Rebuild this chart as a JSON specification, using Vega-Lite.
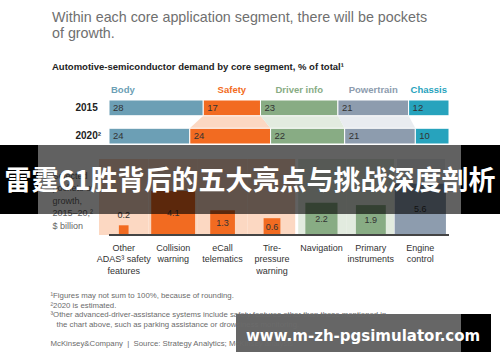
{
  "$schema": "https://vega.github.io/schema/vega-lite/v6.json",
  "background": "white",
  "padding": {"left": 0, "top": 10, "right": 0, "bottom": 0},
  "spacing": 15,
  "bounds": "flush",
  "config": {
    "view": {"stroke": null},
    "font": "Liberation Sans",
    "axis": {"grid": false}
  },
  "title": {
    "text": ["Within each core application segment, there will be pockets", "of growth."],
    "subtitle": "Automotive-semiconductor demand by core segment, % of total¹",
    "anchor": "start",
    "frame": "bounds",
    "dx": 52,
    "offset": 14,
    "font": "Liberation Sans",
    "fontSize": 14.3,
    "fontWeight": "normal",
    "color": "#6f6f6f",
    "lineHeight": 16,
    "subtitleFont": "Liberation Sans",
    "subtitleFontSize": 9.5,
    "subtitleFontWeight": "bold",
    "subtitleColor": "#222222",
    "subtitlePadding": 21
  },
  "datasets": {
    "shares": [
      {"year": "2015", "segment": "Body", "order": 1, "share": 28},
      {"year": "2015", "segment": "Safety", "order": 2, "share": 17},
      {"year": "2015", "segment": "Driver info", "order": 3, "share": 23},
      {"year": "2015", "segment": "Powertrain", "order": 4, "share": 21},
      {"year": "2015", "segment": "Chassis", "order": 5, "share": 12},
      {"year": "2020", "segment": "Body", "order": 1, "share": 24},
      {"year": "2020", "segment": "Safety", "order": 2, "share": 24},
      {"year": "2020", "segment": "Driver info", "order": 3, "share": 22},
      {"year": "2020", "segment": "Powertrain", "order": 4, "share": 21},
      {"year": "2020", "segment": "Chassis", "order": 5, "share": 10}
    ],
    "growth": [
      {"feature": "Other\nADAS³ safety\nfeatures", "segment": "Safety", "value": 0.2},
      {"feature": "Collision\nwarning", "segment": "Safety", "value": 4.1},
      {"feature": "eCall\ntelematics", "segment": "Safety", "value": 1.3},
      {"feature": "Tire-\npressure\nwarning", "segment": "Safety", "value": 0.6},
      {"feature": "Navigation", "segment": "Driver info", "value": 2.2},
      {"feature": "Primary\ninstruments", "segment": "Driver info", "value": 1.9},
      {"feature": "Engine\ncontrol", "segment": "Powertrain", "value": 5.6}
    ]
  },
  "vconcat": [
    {
      "width": 340,
      "height": 44,
      "data": {"name": "shares"},
      "layer": [
        {
          "transform": [
            {"stack": "share", "groupby": ["year"], "sort": [{"field": "order", "order": "ascending"}], "as": ["s0", "s1"]},
            {"filter": {"field": "segment", "oneOf": ["Safety", "Driver info", "Powertrain"]}}
          ],
          "mark": {"type": "area", "orient": "horizontal"},
          "encoding": {
            "y": {"field": "year", "type": "ordinal", "scale": {"type": "point", "range": [15.75, 28.25], "padding": 0}, "axis": null},
            "x": {"field": "s0", "type": "quantitative", "stack": null, "scale": {"domain": [0, 101], "nice": false}, "axis": null},
            "x2": {"field": "s1"},
            "detail": {"field": "segment"},
            "fill": {"field": "segment", "type": "nominal", "scale": {"domain": ["Safety", "Driver info", "Powertrain"], "range": ["#fcd8c2", "#e2ebdf", "#e9ecf0"]}, "legend": null}
          }
        },
        {
          "layer": [
            {
              "transform": [
                {"stack": "share", "groupby": ["year"], "sort": [{"field": "order", "order": "ascending"}], "as": ["s0", "s1"]}
              ],
              "mark": {"type": "bar", "stroke": "white", "strokeWidth": 1},
              "encoding": {
                "y": {"field": "year", "type": "nominal", "scale": {"paddingInner": 0.4425, "paddingOuter": 0},
                  "axis": {"title": null, "domain": false, "ticks": false, "labelFontSize": 10, "labelFontWeight": "bold", "labelColor": "#222222", "labelAlign": "left", "labelBaseline": "middle", "labelPadding": 34, "labelExpr": "datum.label == '2020' ? '2020²' : datum.label"}},
                "x": {"field": "s0", "type": "quantitative", "scale": {"domain": [0, 101], "nice": false}, "axis": null},
                "x2": {"field": "s1"},
                "color": {"field": "segment", "type": "nominal", "scale": {"domain": ["Body", "Safety", "Driver info", "Powertrain", "Chassis"], "range": ["#6c9fb5", "#f26b21", "#88ac84", "#8d9cae", "#27a3bd"]}, "legend": null}
              }
            },
            {
              "transform": [
                {"stack": "share", "groupby": ["year"], "sort": [{"field": "order", "order": "ascending"}], "as": ["s0", "s1"]}
              ],
              "mark": {"type": "text", "align": "left", "baseline": "middle", "dx": 4, "fontSize": 9.5, "color": "#333333"},
              "encoding": {
                "y": {"field": "year", "type": "nominal"},
                "x": {"field": "s0", "type": "quantitative"},
                "text": {"field": "share", "type": "quantitative"}
              }
            },
            {
              "transform": [
                {"stack": "share", "groupby": ["year"], "sort": [{"field": "order", "order": "ascending"}], "as": ["s0", "s1"]},
                {"filter": "datum.year == '2015' && datum.segment == 'Body'"}
              ],
              "mark": {"type": "text", "align": "left", "baseline": "middle", "dx": 2, "dy": -17.5, "fontSize": 9.5, "fontWeight": "bold"},
              "encoding": {
                "y": {"field": "year", "type": "nominal"},
                "x": {"field": "s0", "type": "quantitative"},
                "color": {"field": "segment", "type": "nominal", "legend": null},
                "text": {"field": "segment"}
              }
            },
            {
              "transform": [{"filter": "datum.year == '2015'"}],
              "mark": {"type": "text", "align": "center", "baseline": "middle", "dy": -17.5, "fontSize": 9.5, "fontWeight": "bold"},
              "encoding": {
                "y": {"field": "year", "type": "nominal"},
                "x": {"field": "share", "type": "quantitative", "stack": "zero", "bandPosition": 0.5},
                "order": {"field": "order"},
                "color": {"field": "segment", "type": "nominal", "legend": null},
                "text": {"condition": {"test": "datum.segment == 'Body'", "value": ""}, "field": "segment"}
              }
            }
          ]
        }
      ],
      "resolve": {"scale": {"y": "independent"}}
    },
    {
      "width": 340,
      "height": 76,
      "layer": [
        {
          "data": {"name": "growth"},
          "layer": [
            {
              "mark": {"type": "rect"},
              "encoding": {
                "x": {"field": "feature", "type": "nominal", "sort": null,
                  "scale": {"range": [-10, 336], "paddingInner": 0, "paddingOuter": 0},
                  "axis": {
                    "title": ["¹Figures may not sum to 100%, because of rounding.", "²2020 is estimated.", "³Other advanced-driver-assistance systems include safety features other than those mentioned in", "\u2800the chart above, such as parking assistance or drowsiness monitoring.", "\u2800", "McKinsey&Company\u00a0\u00a0|\u00a0\u00a0Source: Strategy Analytics; McKinsey analysis"],
                    "titleX": -59, "titleY": 56.5, "titleAlign": "left", "titleBaseline": "top", "titleAngle": 0,
                    "titleFont": "Liberation Sans", "titleFontSize": 7.8, "titleFontWeight": "normal", "titleColor": "#6b6b6b", "titleLineHeight": 9.5,
                    "labelExpr": "split(datum.label, '\\n')", "labelAngle": 0, "labelFontSize": 9, "labelColor": "#333333",
                    "labelLineHeight": 11.5, "labelPadding": 8, "labelBaseline": "top", "labelOverlap": false, "labelBound": false,
                    "ticks": false, "domain": false
                  }},
                "fill": {"field": "segment", "type": "nominal", "scale": {"domain": ["Safety", "Driver info", "Powertrain"], "range": ["#fcd3b8", "#dfe9dc", "#dce3ea"]}, "legend": null}
              }
            },
            {
              "transform": [{"filter": {"field": "segment", "oneOf": ["Driver info", "Powertrain"]}}, {"filter": "datum.feature == 'Navigation' || datum.value > 5"}],
              "mark": {"type": "rule", "color": "white", "strokeWidth": 3},
              "encoding": {
                "x": {"field": "feature", "type": "nominal", "sort": null, "bandPosition": 0}
              }
            },
            {
              "mark": {"type": "bar"},
              "encoding": {
                "x": {"field": "feature", "type": "nominal", "sort": null},
                "y": {"field": "value", "type": "quantitative", "scale": {"type": "sqrt", "domain": [0, 12.27], "nice": false, "zero": true},
                  "axis": {"title": ["Selected", "pockets of", "growth,", "2015–20,²", "$ billion"], "titleAngle": 0, "titleAlign": "left", "titleBaseline": "top",
                    "titleX": -57, "titleY": 12, "titleFont": "Liberation Sans", "titleFontSize": 9, "titleFontWeight": "normal", "titleColor": "#666666", "titleLineHeight": 12.6,
                    "labels": false, "ticks": false, "domain": false, "grid": false}},
                "size": {"field": "value", "type": "quantitative", "scale": {"type": "sqrt", "domain": [0, 5.6], "range": [0, 51.3], "nice": false}, "legend": null},
                "color": {"field": "segment", "type": "nominal", "scale": {"domain": ["Safety", "Driver info", "Powertrain"], "range": ["#f26b21", "#82a77d", "#8fa2b6"]}, "legend": null}
              }
            },
            {
              "mark": {"type": "rule", "color": "#444444", "strokeWidth": 1},
              "encoding": {"y": {"datum": 0}}
            },
            {
              "transform": [{"filter": "datum.value < 0.5"}],
              "mark": {"type": "text", "baseline": "bottom", "dy": -5, "fontSize": 9, "color": "#333333"},
              "encoding": {
                "x": {"field": "feature", "type": "nominal", "sort": null},
                "y": {"field": "value", "type": "quantitative"},
                "text": {"field": "value", "type": "quantitative", "format": ".1f"}
              }
            }
          ]
        },
        {
          "data": {"name": "growth"},
          "transform": [{"filter": "datum.value >= 0.5"}],
          "mark": {"type": "text", "baseline": "middle", "fontSize": 9, "color": "#333333"},
          "encoding": {
            "x": {"field": "feature", "type": "nominal", "sort": null},
            "y": {"field": "value", "type": "quantitative", "scale": {"type": "sqrt", "domain": [0, 49.08], "nice": false, "zero": true}, "axis": null},
            "text": {"field": "value", "type": "quantitative", "format": ".1f"}
          }
        },
        {
          "data": {"values": [{"part": "banner"}]},
          "mark": {"type": "rect", "color": "black", "opacity": 0.62, "zindex": 1},
          "encoding": {"x": {"value": -109}, "x2": {"value": 391}, "y": {"value": -14}, "y2": {"value": 55}}
        },
        {
          "data": {"values": [{"part": "banner-left"}]},
          "mark": {"type": "rect", "color": "black", "zindex": 1},
          "encoding": {"x": {"value": -109}, "x2": {"value": -71}, "y": {"value": -14}, "y2": {"value": 55}}
        },
        {
          "data": {"values": [{"part": "banner-right"}]},
          "mark": {"type": "rect", "color": "black", "zindex": 1},
          "encoding": {"x": {"value": 352}, "x2": {"value": 391}, "y": {"value": -14}, "y2": {"value": 55}}
        },
        {
          "data": {"values": [{"caption": "雷霆61胜背后的五大亮点与挑战深度剖析"}]},
          "mark": {"type": "text", "font": "Noto Sans CJK SC", "fontSize": 27, "fontWeight": "bold", "color": "white", "align": "center", "baseline": "middle", "zindex": 2},
          "encoding": {"x": {"value": 141}, "y": {"value": 23}, "text": {"field": "caption"}}
        },
        {
          "data": {"values": [{"part": "watermark"}]},
          "mark": {"type": "rect", "color": "black", "opacity": 0.6, "zindex": 1},
          "encoding": {"x": {"value": 127}, "x2": {"value": 352}, "y": {"value": 155}, "y2": {"value": 193}}
        },
        {
          "data": {"values": [{"part": "watermark-right"}]},
          "mark": {"type": "rect", "color": "black", "zindex": 1},
          "encoding": {"x": {"value": 352}, "x2": {"value": 382}, "y": {"value": 155}, "y2": {"value": 193}}
        },
        {
          "data": {"values": [{"caption": "www.m-zh-pgsimulator.com"}]},
          "mark": {"type": "text", "font": "DejaVu Sans", "fontSize": 15, "fontWeight": "bold", "color": "white", "align": "left", "baseline": "middle", "zindex": 2},
          "encoding": {"x": {"value": 137}, "y": {"value": 177}, "text": {"field": "caption"}}
        }
      ],
      "resolve": {"scale": {"y": "independent"}}
    }
  ]
}
